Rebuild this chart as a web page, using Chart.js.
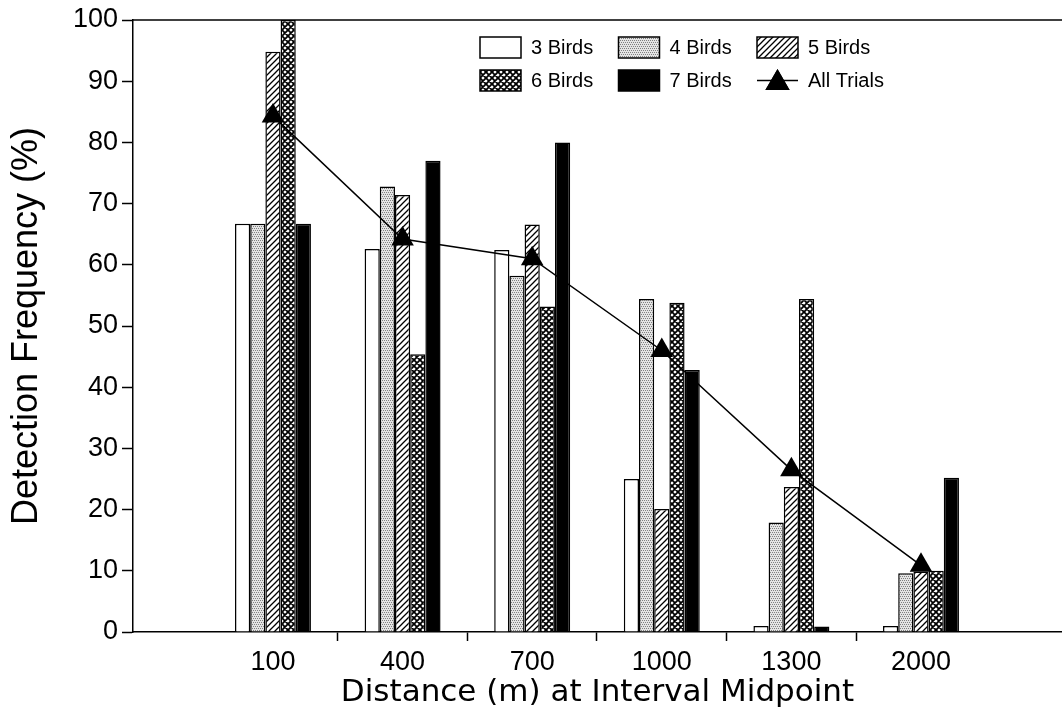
<!DOCTYPE html>
<html>
<head>
<meta charset="utf-8">
<title>Detection Frequency</title>
<script src="https://cdn.jsdelivr.net/npm/chart.js@4.4.1/dist/chart.umd.min.js"></script>
<style>
	body { margin: 0; background: #fff; }
	#wrap { width: 1062px; height: 717px; }
</style>
</head>
<body>
<div id="wrap"><canvas id="myChart" width="1062" height="717"></canvas></div>
<script>
// distance classes (m) at interval midpoint
var categories = ["100", "400", "700", "1000", "1300", "2000"];
var seriesNames = ["3 Birds", "4 Birds", "5 Birds", "6 Birds", "7 Birds"];

// detection frequency (%) per flock size
var birds3 = [66.7, 62.6, 62.4, 25.0, 1.0, 1.0];
var birds4 = [66.7, 72.8, 58.2, 54.4, 17.9, 9.6];
var birds5 = [94.8, 71.4, 66.6, 20.1, 23.7, 9.9];
var birds6 = [100, 45.4, 53.2, 53.8, 54.4, 10.0];
var birds7 = [66.7, 77.0, 80.0, 42.8, 0.9, 25.2];
var allTrials = [84.3, 64.2, 61.0, 46.0, 26.5, 10.9];

var yTicks = [0, 10, 20, 30, 40, 50, 60, 70, 80, 90, 100];

function makePattern(kind) {
	var c = document.createElement('canvas');
	var g = c.getContext('2d');
	c.width = 6; c.height = 6;
	g.fillStyle = '#fff';
	g.fillRect(0, 0, 6, 6);
	g.strokeStyle = '#000';
	g.fillStyle = '#000';
	if (kind === 'dots') {
		// ordered stipple, reads as a flat light grey
		c.width = 4; c.height = 4;
		g.fillStyle = '#e4e4e4';
		g.fillRect(0, 0, 4, 4);
		g.fillStyle = '#808080';
		[[0,0],[2,0],[1,2],[3,2]].forEach(function(p){
			g.fillRect(p[0], p[1], 1, 1);
		});
	} else if (kind === 'hatch') {
		g.lineWidth = 1.3;
		g.beginPath();
		g.moveTo(0, 6); g.lineTo(6, 0);
		g.moveTo(-1, 1); g.lineTo(1, -1);
		g.moveTo(5, 7); g.lineTo(7, 5);
		g.stroke();
	} else if (kind === 'cross') {
		g.lineWidth = 1.8;
		g.beginPath();
		g.moveTo(0, 6); g.lineTo(6, 0);
		g.moveTo(-1, 1); g.lineTo(1, -1);
		g.moveTo(5, 7); g.lineTo(7, 5);
		g.moveTo(0, 0); g.lineTo(6, 6);
		g.moveTo(-1, 5); g.lineTo(1, 7);
		g.moveTo(5, -1); g.lineTo(7, 1);
		g.stroke();
	}
	return g.createPattern(c, 'repeat');
}

var fills = ['#ffffff', makePattern('dots'), makePattern('hatch'), makePattern('cross'), '#000000'];
var seriesData = [birds3, birds4, birds5, birds6, birds7];

function points(arr) {
	return arr.map(function(v, i){ return { x: i, y: v }; });
}

var datasets = seriesData.map(function(arr, k){
	return {
		type: 'bar',
		label: seriesNames[k],
		data: points(arr),
		backgroundColor: fills[k],
		borderColor: '#000',
		borderWidth: 1.5,
		order: 1
	};
});
datasets.push({
	type: 'line',
	label: 'All Trials',
	data: points(allTrials),
	borderColor: '#000',
	borderWidth: 1.5,
	backgroundColor: '#000',
	pointStyle: 'triangle',
	pointRadius: 13,
	pointBorderWidth: 0,
	tension: 0,
	order: 0
});

// legend drawn inside the plot, 3 columns x 2 rows
var insideLegend = {
	id: 'insideLegend',
	afterDraw: function(chart) {
		var ctx = chart.ctx;
		var a = chart.chartArea;
		// frame line along the top
		ctx.save();
		ctx.strokeStyle = '#000';
		ctx.lineWidth = 1.5;
		ctx.beginPath();
		ctx.moveTo(a.left, a.top);
		ctx.lineTo(a.right, a.top);
		ctx.stroke();

		ctx.font = '20px "Liberation Sans", Arial, sans-serif';
		ctx.textBaseline = 'middle';
		ctx.fillStyle = '#000';
		chart.data.datasets.forEach(function(ds, i){
			var col = i % 3, row = Math.floor(i / 3);
			var x = a.left + 347 + col * 138.5;
			var y = a.top + 17 + row * 33;
			if (ds.type === 'line') {
				ctx.beginPath();
				ctx.moveTo(x, y + 10.5);
				ctx.lineTo(x + 41, y + 10.5);
				ctx.stroke();
				Chart.helpers.drawPoint(ctx, { pointStyle: 'triangle', radius: 14, borderWidth: 0 }, x + 20.5, y + 13);
				ctx.fill();
			} else {
				ctx.fillStyle = ds.backgroundColor;
				ctx.fillRect(x, y, 41, 21);
				ctx.strokeRect(x, y, 41, 21);
			}
			ctx.fillStyle = '#000';
			ctx.fillText(ds.label, x + 51, y + 11);
		});
		ctx.restore();
	}
};

Chart.defaults.font.family = '"Liberation Sans", Arial, sans-serif';
Chart.defaults.color = '#000';

var ctx = document.getElementById('myChart').getContext('2d');
new Chart(ctx, {
	type: 'bar',
	data: { datasets: datasets },
	plugins: [insideLegend],
	options: {
		responsive: false,
		animation: false,
		layout: { autoPadding: false, padding: { top: 20, right: 0, left: 0, bottom: 0 } },
		datasets: { bar: { categoryPercentage: 0.586, barPercentage: 1 } },
		plugins: { legend: { display: false }, tooltip: { enabled: false } },
		scales: {
			x: {
				type: 'linear',
				min: -1.08,
				max: 6.088,
				offset: false,
				afterBuildTicks: function(s){
					s.ticks = categories.map(function(c, i){ return { value: i }; });
				},
				afterFit: function(s){
					s.height = 85;
					s.paddingLeft = 0; s.paddingRight = 0;
				},
				ticks: {
					autoSkip: false,
					maxRotation: 0,
					padding: 5,
					font: { size: 27 },
					callback: function(v){ return categories[v]; }
				},
				grid: {
					offset: true,
					drawOnChartArea: false,
					tickLength: 9,
					tickWidth: 1.5,
					tickColor: function(c){
						return (c.type === 'tick' && c.index > 0) ? '#000' : 'rgba(0,0,0,0)';
					}
				},
				border: { color: '#000', width: 1.5 },
				title: {
					display: true,
					text: 'Distance (m) at Interval Midpoint',
					font: { family: '"DejaVu Sans", sans-serif', size: 31, lineHeight: 1 },
					padding: { top: 0, bottom: 9 }
				}
			},
			y: {
				min: 0,
				max: 100,
				afterBuildTicks: function(s){
					s.ticks = yTicks.map(function(v){ return { value: v }; });
				},
				afterFit: function(s){
					s.width = 133;
					s.paddingTop = 0; s.paddingBottom = 0;
				},
				ticks: { padding: 4, font: { size: 27 } },
				grid: {
					drawOnChartArea: false,
					tickLength: 11,
					tickWidth: 1.5,
					tickColor: '#000'
				},
				border: { color: '#000', width: 1.5 },
				title: {
					display: true,
					text: 'Detection Frequency (%)',
					font: { size: 36, lineHeight: 1 },
					padding: { top: 9, bottom: 0 }
				}
			}
		}
	}
});
</script>
</body>
</html>
